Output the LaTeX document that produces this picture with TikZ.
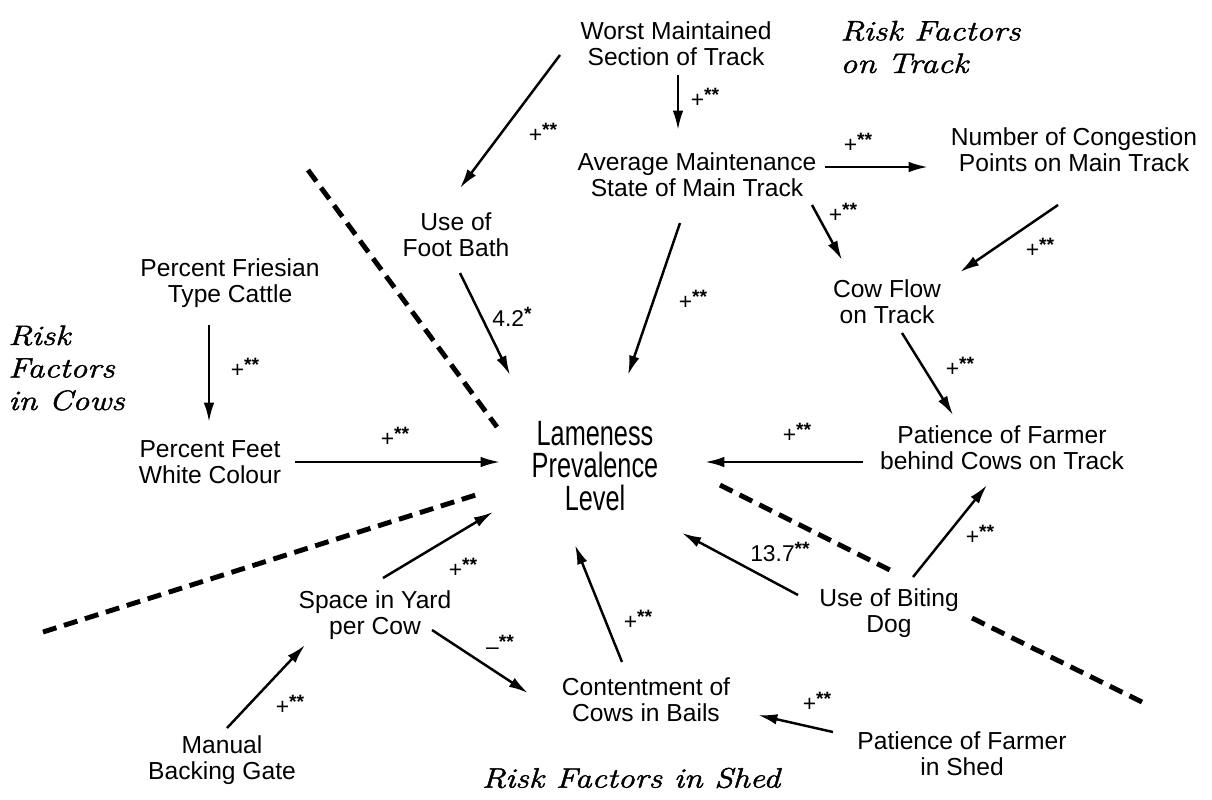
\documentclass[tikz,border=0pt]{standalone}
\usepackage{fontspec}
\usetikzlibrary{arrows.meta,calc}
\newfontfamily\nodefont{Liberation Sans}
\newfontfamily\lamefont{Liberation Sans}[FakeStretch=0.72]
\newfontfamily\riskfont{Latin Modern Roman}[FakeStretch=1.2,FakeBold=1.6]
\tikzset{
  factor/.style={inner sep=0pt, align=center, font={\nodefont\fontsize{14}{14.7}\selectfont}},
  lame/.style={inner sep=0pt, align=center, font={\lamefont\fontsize{20}{18.7}\selectfont}},
  risk/.style={inner sep=0pt, align=left, anchor=west, font={\riskfont\itshape\fontsize{16}{18.5}\selectfont}},
  lbl/.style={inner sep=0pt, font={\nodefont\fontsize{13}{14}\selectfont}},
  arr/.style={line width=1.4pt, -{Latex[length=11pt,width=6pt]}},
  sep/.style={line width=2.8pt, dash pattern=on 8pt off 4.5pt},
}
\newcommand{\dstar}{\raisebox{3.5pt}{\bfseries\fontsize{11}{11}\selectfont **}}
\begin{document}
\begin{tikzpicture}[x=0.02cm,y=-0.02cm]
\useasboundingbox (0,0) rectangle (1212,799);
% factors
\node[factor] (worst) at (676,44) {Worst Maintained\\Section of Track};
\node[factor] (avg) at (697,175) {Average Maintenance\\State of Main Track};
\node[factor] (cong) at (1074,150) {Number of Congestion\\Points on Main Track};
\node[factor] (bath) at (456,235) {Use of\\Foot Bath};
\node[factor] (cowflow) at (887,302) {Cow Flow\\on Track};
\node[factor] (fries) at (230,283) {Percent Friesian\\Type Cattle};
\node[factor] (feet) at (210,462) {Percent Feet\\White Colour};
\node[lame] (lame) at (595,466) {Lameness\\Prevalence\\Level};
\node[factor] (patT) at (1002,448) {Patience of Farmer\\behind Cows on Track};
\node[factor] (space) at (375,615) {Space in Yard\\per Cow};
\node[factor] (dog) at (889,613) {Use of Biting\\Dog};
\node[factor] (manual) at (222,760) {Manual\\Backing Gate};
\node[factor] (content) at (646,700) {Contentment of\\Cows in Bails};
\node[factor] (shed) at (962,754) {Patience of Farmer\\in Shed};
% category labels
\node[risk] (rtrack) at (840,47) {Risk Factors\\on Track};
\node[risk] (rcows) at (8,368) {Risk\\Factors\\in Cows};
\node[risk, anchor=center] (rshed) at (631,778) {Risk Factors in Shed};
% separators
\draw[sep] (308,170) -- (497,427);
\draw[sep] (43,632) -- (482,493);
\draw[sep] (720,485) -- (890,570);
\draw[sep] (972,618) -- (1142,702);
% connectors
\draw[arr] ($(worst)+(-116,11)$) -- ($(bath)+(4,-47)$);
\draw[arr] ($(worst)+(2,31)$) -- ($(avg)+(-19,-45)$);
\draw[arr] ($(avg)+(128,-8)$) -- ($(cong)+(-146,17)$);
\draw[arr] ($(avg)+(115,30)$) -- ($(cowflow)+(-45,-42)$);
\draw[arr] ($(avg)+(-17,48)$) -- ($(lame)+(33,-91)$);
\draw[arr] ($(cong)+(-16,55)$) -- ($(cowflow)+(73,-30)$);
\draw[arr] ($(cowflow)+(15,31)$) -- ($(patT)+(-49,-33)$);
\draw[arr] ($(patT)+(-139,14)$) -- ($(lame)+(110,-4)$);
\draw[arr] ($(dog)+(-91,-18)$) -- ($(lame)+(87,67)$);
\draw[arr] ($(dog)+(24,-36)$) -- ($(patT)+(-15,37)$);
\draw[arr] ($(bath)+(4,38)$) -- ($(lame)+(-85,-91)$);
\draw[arr] ($(fries)+(-21,42)$) -- ($(feet)+(-1,-40)$);
\draw[arr] ($(feet)+(85,0)$) -- ($(lame)+(-95,-4)$);
\draw[arr] ($(space)+(8,-37)$) -- ($(lame)+(-102,46)$);
\draw[arr] ($(manual)+(5,-32)$) -- ($(space)+(-70,30)$);
\draw[arr] ($(space)+(57,15)$) -- ($(content)+(-118,-7)$);
\draw[arr] ($(content)+(-24,-38)$) -- ($(lame)+(-20,79)$);
\draw[arr] ($(shed)+(-129,-22)$) -- ($(content)+(112,15)$);
% connector labels
\node[lbl] (l1) at (543,133) {+\dstar};
\node[lbl] (l2) at (705,98) {+\dstar};
\node[lbl] (l3) at (858,143) {+\dstar};
\node[lbl] (l4) at (843,213) {+\dstar};
\node[lbl] (l5) at (693,300) {+\dstar};
\node[lbl] (l6) at (1040,248) {+\dstar};
\node[lbl] (l7) at (960,367) {+\dstar};
\node[lbl] (l8) at (797,433) {+\dstar};
\node[lbl] (l9) at (780,552) {13.7\dstar};
\node[lbl] (l10) at (980,535) {+\dstar};
\node[lbl] (l11) at (512,317) {4.2\raisebox{3.5pt}{\bfseries\fontsize{11}{11}\selectfont *}};
\node[lbl] (l12) at (245,368) {+\dstar};
\node[lbl] (l13) at (395,437) {+\dstar};
\node[lbl] (l14) at (463,568) {+\dstar};
\node[lbl] (l15) at (290,705) {+\dstar};
\node[lbl] (l16) at (500,645) {–\dstar};
\node[lbl] (l17) at (638,620) {+\dstar};
\node[lbl] (l18) at (817,702) {+\dstar};
\end{tikzpicture}
\end{document}
